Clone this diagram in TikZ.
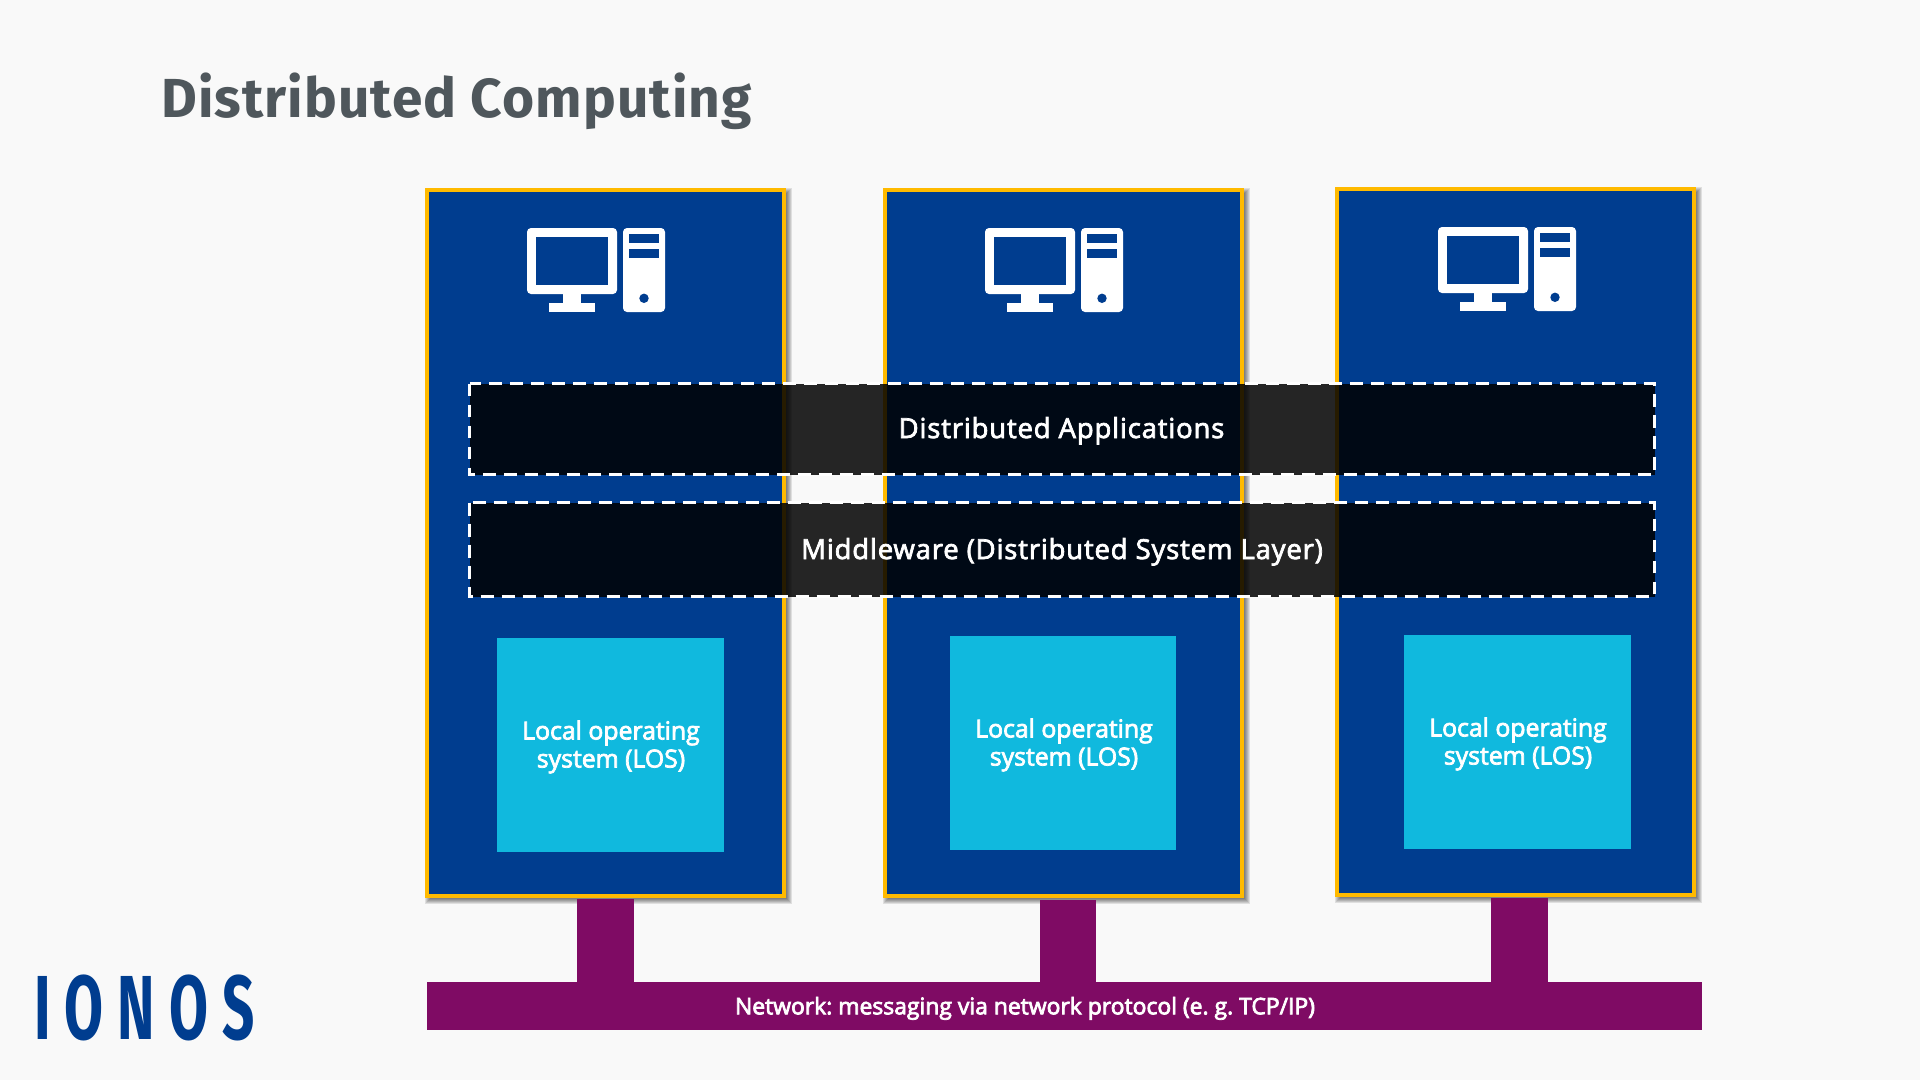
\documentclass[tikz,border=0pt]{standalone}
\usepackage{fontspec}
\setmainfont{Open Sans}
\newfontfamily\labelfont[LetterSpace=3]{Open Sans}
\newfontfamily\smallfont{Open Sans}
\newfontfamily\titlefont[LetterSpace=2]{Fira Sans}
\newfontfamily\logofont[LetterSpace=25]{Fira Sans}
\newcommand{\heavyon}{\special{pdf:code 2 Tr 0.75 w}}
\newcommand{\heavyoff}{\special{pdf:code 0 Tr}}
\definecolor{pagebg}{HTML}{F9F9F9}
\definecolor{hostblue}{HTML}{003D8F}
\definecolor{hostedge}{HTML}{FFBA00}
\definecolor{loscyan}{HTML}{10B9DE}
\definecolor{netpurple}{HTML}{7F0B64}
\definecolor{titlegrey}{HTML}{4F575C}
\tikzset{
  hostbox/.style={draw=hostedge,fill=hostblue,line width=4.3pt,rectangle,inner sep=0pt,outer sep=0pt,minimum width=357pt,minimum height=706pt},
  losbox/.style={fill=loscyan,rectangle,inner sep=0pt,outer sep=0pt,minimum height=214pt},
  layerbox/.style={rectangle,inner sep=0pt,outer sep=0pt,minimum width=1185pt,fill=black,fill opacity=.85,draw=none},
  layerline/.style={draw=white,line width=3.5pt,dash pattern=on 12.8pt off 8.2pt},
  netbar/.style={fill=netpurple,rectangle,inner sep=0pt,outer sep=0pt,minimum width=1275pt,minimum height=48pt},
  stemline/.style={draw=netpurple,line width=#1},
  heavytext/.style={execute at begin node=\frenchspacing\heavyon,execute at end node=\heavyoff},
  whitelabel/.style={heavytext,text=white,font=\labelfont\fontsize{27.5}{28}\selectfont,inner sep=0pt,anchor=base},
  loslabel/.style={heavytext,text=white,font=\smallfont\fontsize{24.8}{28}\selectfont,inner sep=0pt,align=center},
  netlabel/.style={heavytext,text=white,font=\smallfont\fontsize{22.9}{28}\selectfont,inner sep=0pt,anchor=base},
  computer/.pic={
    \fill[white,rounded corners=4pt] (0,0) rectangle (90,66);
    \fill[hostblue] (9,9) rectangle (81,57);
    \fill[white] (36,66) rectangle (54,75);
    \fill[white] (22,75) rectangle (68,84);
    \fill[white,rounded corners=4pt] (96,0) rectangle (138,84);
    \fill[hostblue] (102,6) rectangle (132,15);
    \fill[hostblue] (102,21) rectangle (132,30);
    \fill[hostblue] (117,70.3) circle (4.7);
  }
}
\newcommand{\softshadow}[4]{%
  \foreach \k in {-2,...,3}{
    \fill[black,opacity=.1] (#1+3-\k,#2+3-\k) rectangle (#3+3+\k,#4+3+\k);
  }}
\begin{document}
\begin{tikzpicture}[x=1pt,y=-1pt]
\useasboundingbox (0,0) rectangle (1920,1080);
\fill[pagebg] (0,0) rectangle (1920,1080);

\node[text=titlegrey,font=\titlefont\bfseries\fontsize{55}{60}\selectfont,anchor=base west,inner sep=0pt] (title) at (161,117.7) {Distributed Computing};
\node[text=hostblue,font=\logofont\bfseries\fontsize{91}{91}\selectfont,anchor=base west,inner sep=0pt] (logo) at (34,1039) {\scalebox{.62}[1]{IONOS}};

\softshadow{425}{188}{786}{898}
\softshadow{883}{188}{1244}{898}
\softshadow{1335}{187}{1696}{897}

\node[hostbox] (host1) at (605.5,543) {};
\node[hostbox] (host2) at (1063.5,543) {};
\node[hostbox] (host3) at (1515.5,542) {};

\pic at (527,228) {computer};
\pic at (985,228) {computer};
\pic at (1438,227) {computer};

\node[losbox,minimum width=227pt] (los1) at (610.5,745) {};
\node[losbox,minimum width=226pt] (los2) at (1063,743) {};
\node[losbox,minimum width=227pt] (los3) at (1517.5,742) {};
\node[loslabel] (lt1) at (611,747) {Local operating\\system (LOS)};
\node[loslabel] (lt2) at (1064,745) {Local operating\\system (LOS)};
\node[loslabel] (lt3) at (1518,744) {Local operating\\system (LOS)};

\node[layerbox,minimum height=91.2pt] (apps) at (1062,429.1) {};
\node[layerbox,minimum height=93.8pt] (mid) at (1062,549.6) {};
\draw[layerline] (apps.north west) rectangle (apps.south east);
\draw[layerline] (mid.north west) rectangle (mid.south east);
\node[whitelabel] (appstext) at (1061.5,438) {Distributed Applications};
\node[whitelabel] (midtext) at (1062,559) {Middleware (Distributed System Layer)};

\node[netbar] (net) at (1064.5,1006) {};
\coordinate (s1a) at (605.5,899);
\coordinate (s2a) at (1068,900);
\coordinate (s3a) at (1519.5,898);
\draw[stemline=57pt] (s1a) -- (s1a |- net.north);
\draw[stemline=56pt] (s2a) -- (s2a |- net.north);
\draw[stemline=57pt] (s3a) -- (s3a |- net.north);
\node[netlabel] (nettext) at (1025,1014.3) {Network: messaging via network protocol (e. g. TCP/IP)};
\end{tikzpicture}
\end{document}
